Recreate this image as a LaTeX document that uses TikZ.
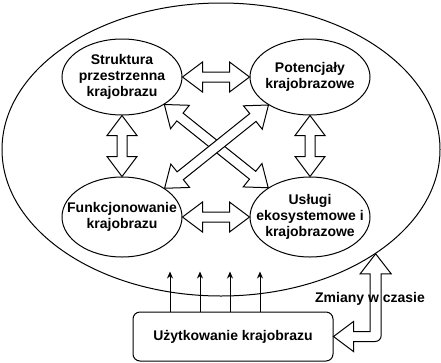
\documentclass[tikz,border=0pt]{standalone}
\usepackage{fontspec}
\setmainfont{Liberation Sans}
\usetikzlibrary{calc,arrows.meta,shapes.geometric}

\tikzset{
  txt/.style={font=\fontsize{14}{16}\selectfont\bfseries},
  pole/.style={draw,ellipse,txt,align=center,inner xsep=-20pt,inner ysep=0pt,
    minimum width=120pt,minimum height=#1},
  pole/.default=76pt,
  blockarrow/.style={draw,fill=white,line join=miter},
}

% hollow double-headed arrow between two points
\newcommand{\dblarrow}[2]{%
  \draw[blockarrow] (#1)
    -- ($(#1)!20pt!(#2)!15pt!90:(#2)$)
    -- ($(#1)!20pt!(#2)!5pt!90:(#2)$)
    -- ($(#2)!20pt!(#1)!5pt!-90:(#1)$)
    -- ($(#2)!20pt!(#1)!15pt!-90:(#1)$)
    -- (#2)
    -- ($(#2)!20pt!(#1)!15pt!90:(#1)$)
    -- ($(#2)!20pt!(#1)!5pt!90:(#1)$)
    -- ($(#1)!20pt!(#2)!5pt!-90:(#2)$)
    -- ($(#1)!20pt!(#2)!15pt!-90:(#2)$)
    -- cycle;}

\begin{document}
\begin{tikzpicture}[x=1pt,y=-1pt,line width=1pt]
  \useasboundingbox (0,0) rectangle (441,362);

  \node[draw,ellipse,minimum width=438pt,minimum height=293pt,inner sep=0pt] (outer) at (221,149.5) {};

  \node[pole] (str) at (122,77) {Struktura\\przestrzenna\\krajobrazu};
  \node[pole] (pot) at (310,77) {Potencjały\\krajobrazowe};
  \node[pole=80pt] (fun) at (122,217) {Funkcjonowanie\\krajobrazu};
  \node[pole=80pt] (usl) at (310,217) {Usługi\\ekosystemowe i\\krajobrazowe};

  \node[draw,rounded corners=7pt,txt,minimum width=200pt,minimum height=49pt] (use) at (233,336.5) {Użytkowanie krajobrazu};

  \dblarrow{str.east}{pot.west}
  \dblarrow{fun.east}{usl.west}
  \dblarrow{str.south}{fun.north}
  \dblarrow{pot.south}{usl.north}
  \dblarrow{str.-33}{usl.145}
  \dblarrow{pot.-146}{fun.34}

  % usage acting on the landscape
  \foreach \x in {170,200,230,260}
    \draw[-{Stealth[length=7pt,width=6pt]}] (use.north -| \x,0) -- ++(0,-40);

  % feedback over time
  \coordinate (zm) at (outer.-34);
  \coordinate (bend) at (zm |- use.east);
  \draw[blockarrow] (use.east) -- ++(20,-15) -- ++(0,10)
    -- ($(bend)+(-5.5,-5)$)
    -- ($(zm)+(-5.5,20)$) -- ++(-10,0) -- (zm) -- ++(15.5,20) -- ++(-10,0)
    [rounded corners=6pt] -- ($(bend)+(5.5,5)$)
    [sharp corners] -- ($(use.east)+(20,5)$) -- ++(0,10) -- cycle;
  \node[txt] (zmiany) at (370,299) {Zmiany w czasie};
\end{tikzpicture}
\end{document}
